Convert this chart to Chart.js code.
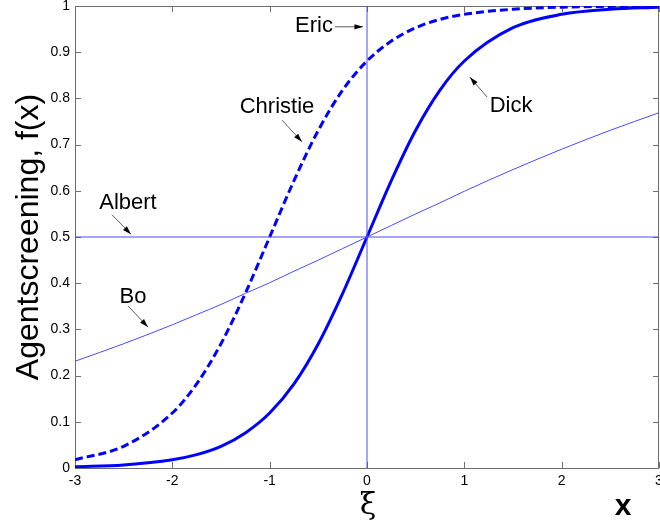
<!DOCTYPE html>
<html>
<head>
<meta charset="utf-8">
<script src="https://cdn.jsdelivr.net/npm/chart.js@4/dist/chart.umd.min.js"></script>
<style>
  html, body { margin: 0; padding: 0; background: #fff; overflow: hidden; }
  #wrap { width: 660px; height: 527px; }
</style>
</head>
<body>
<div id="wrap"><canvas id="c"></canvas></div>
<script>
// values
const xs = [-3, -2.5, -2, -1.75, -1.5, -1.25, -1, -0.75, -0.5, -0.25, 0, 0.25, 0.5, 0.75, 1, 1.5, 2, 2.5, 3];
const dick = [0.0025, 0.0067, 0.018, 0.029, 0.047, 0.076, 0.119, 0.182, 0.269, 0.378, 0.5, 0.622, 0.731, 0.818, 0.881, 0.953, 0.982, 0.993, 0.9975];
const christie = [0.018, 0.047, 0.119, 0.182, 0.269, 0.378, 0.5, 0.622, 0.731, 0.818, 0.881, 0.924, 0.953, 0.971, 0.982, 0.993, 0.9975, 0.9991, 0.9997];
const bo = [0.231, 0.269, 0.310, 0.332, 0.354, 0.378, 0.401, 0.426, 0.450, 0.475, 0.5, 0.525, 0.550, 0.574, 0.599, 0.646, 0.690, 0.731, 0.769];
const albertX = [-3, 3];
const albertY = [0.5, 0.5];
const ericX = [0, 0];
const ericY = [0, 1];

const xTickValues = [-3, -2, -1, 0, 1, 2, 3];
const xTickLabels = ['-3', '-2', '-1', '0', '1', '2', '3'];
const yTickValues = [0, 0.1, 0.2, 0.3, 0.4, 0.5, 0.6, 0.7, 0.8, 0.9, 1];
const yTickLabels = ['0', '0.1', '0.2', '0.3', '0.4', '0.5', '0.6', '0.7', '0.8', '0.9', '1'];

// labels with arrows, in data units: [text, textX, textY, fromX, fromY, toX, toY]
const notes = [
  ['Eric', -0.545, 0.957, -0.329, 0.955, -0.041, 0.955],
  ['Christie', -0.925, 0.781, -0.873, 0.753, -0.668, 0.706],
  ['Dick', 1.48, 0.784, 1.233, 0.803, 1.058, 0.846],
  ['Albert', -2.456, 0.574, -2.62, 0.548, -2.425, 0.506],
  ['Bo', -2.404, 0.370, -2.456, 0.351, -2.25, 0.305]
];

const FONT = '"Liberation Sans", Arial, sans-serif';
const AXIS = '#6e6e6e';

function pts(x, y) {
  return x.map((v, i) => ({ x: v, y: y[i] }));
}

function arrow(ctx, x1, y1, x2, y2) {
  const a = Math.atan2(y2 - y1, x2 - x1);
  ctx.strokeStyle = '#333';
  ctx.lineWidth = 0.8;
  ctx.beginPath();
  ctx.moveTo(x1, y1);
  ctx.lineTo(x2, y2);
  ctx.stroke();
  ctx.fillStyle = '#000';
  ctx.beginPath();
  ctx.moveTo(x2, y2);
  ctx.lineTo(x2 - 9 * Math.cos(a - 0.3), y2 - 9 * Math.sin(a - 0.3));
  ctx.lineTo(x2 - 9 * Math.cos(a + 0.3), y2 - 9 * Math.sin(a + 0.3));
  ctx.closePath();
  ctx.fill();
}

// frame with inward ticks (matlab look), labels, axis titles
const decor = {
  id: 'decor',
  beforeDatasetsDraw(chart) {
    const { ctx, chartArea: a, scales } = chart;
    ctx.save();
    ctx.strokeStyle = AXIS;
    ctx.lineWidth = 1;
    ctx.strokeRect(a.left + 0.5, a.top + 0.5, a.right - a.left - 1, a.bottom - a.top);
    ctx.beginPath();
    xTickValues.forEach(v => {
      const px = Math.round(scales.x.getPixelForValue(v)) + 0.5;
      ctx.moveTo(px, a.bottom); ctx.lineTo(px, a.bottom - 6);
      ctx.moveTo(px, a.top); ctx.lineTo(px, a.top + 6);
    });
    yTickValues.forEach(v => {
      const py = Math.round(scales.y.getPixelForValue(v)) + 0.5;
      ctx.moveTo(a.left, py); ctx.lineTo(a.left + 6, py);
      ctx.moveTo(a.right, py); ctx.lineTo(a.right - 6, py);
    });
    ctx.stroke();
    ctx.restore();
  },
  afterDatasetsDraw(chart) {
    const { ctx, scales } = chart;
    const X = v => scales.x.getPixelForValue(v);
    const Y = v => scales.y.getPixelForValue(v);
    ctx.save();
    ctx.font = '22px ' + FONT;
    ctx.textAlign = 'center';
    ctx.textBaseline = 'middle';
    notes.forEach(n => {
      ctx.fillStyle = '#000';
      ctx.fillText(n[0], X(n[1]), Y(n[2]));
      arrow(ctx, X(n[3]), Y(n[4]), X(n[5]), Y(n[6]));
    });

    ctx.fillStyle = '#000';
    ctx.save();
    ctx.translate(29, Y(0.5));
    ctx.rotate(-Math.PI / 2);
    ctx.font = '32px ' + FONT;
    ctx.fillText('Agentscreening, f(x)', 0, 0);
    ctx.restore();

    ctx.font = '30px "DejaVu Serif", serif';
    ctx.fillText('ξ', X(0) + 1, 506);
    ctx.font = 'bold 30px ' + FONT;
    ctx.fillText('x', 623, 507);
    ctx.restore();
  }
};

new Chart(document.getElementById('c'), {
  type: 'scatter',
  data: {
    datasets: [
      { label: 'Albert', data: pts(albertX, albertY), showLine: true, borderColor: '#4a4aff', borderWidth: 1, pointRadius: 0 },
      { label: 'Eric', data: pts(ericX, ericY), showLine: true, borderColor: '#4a4aff', borderWidth: 1, pointRadius: 0 },
      { label: 'Bo', data: pts(xs, bo), showLine: true, borderColor: '#4a4aff', borderWidth: 1, pointRadius: 0, cubicInterpolationMode: 'monotone' },
      { label: 'Christie', data: pts(xs, christie), showLine: true, borderColor: '#0000ff', borderWidth: 3, borderDash: [8, 4], pointRadius: 0, cubicInterpolationMode: 'monotone' },
      { label: 'Dick', data: pts(xs, dick), showLine: true, borderColor: '#0000ff', borderWidth: 3, pointRadius: 0, cubicInterpolationMode: 'monotone' }
    ]
  },
  options: {
    responsive: true,
    maintainAspectRatio: false,
    animation: false,
    layout: { padding: { top: 6, right: 1, left: 0, bottom: 0 } },
    plugins: { legend: { display: false }, tooltip: { enabled: false } },
    scales: {
      x: {
        type: 'linear', min: -3, max: 3,
        grid: { display: false, drawTicks: false },
        border: { display: false },
        afterBuildTicks: s => { s.ticks = xTickValues.map(v => ({ value: v })); },
        afterFit: s => { s.height = 59; s.paddingLeft = 0; s.paddingRight = 0; },
        ticks: {
          padding: 5, color: '#000', maxRotation: 0, autoSkip: false,
          font: { family: FONT, size: 14 },
          callback: (v, i) => xTickLabels[i]
        }
      },
      y: {
        type: 'linear', min: 0, max: 1,
        grid: { display: false, drawTicks: false },
        border: { display: false },
        afterBuildTicks: s => { s.ticks = yTickValues.map(v => ({ value: v })); },
        afterFit: s => { s.width = 75; s.paddingTop = 0; s.paddingBottom = 0; },
        ticks: {
          padding: 5, color: '#000', autoSkip: false,
          font: { family: FONT, size: 14 },
          callback: (v, i) => yTickLabels[i]
        }
      }
    }
  },
  plugins: [decor]
});
</script>
</body>
</html>
